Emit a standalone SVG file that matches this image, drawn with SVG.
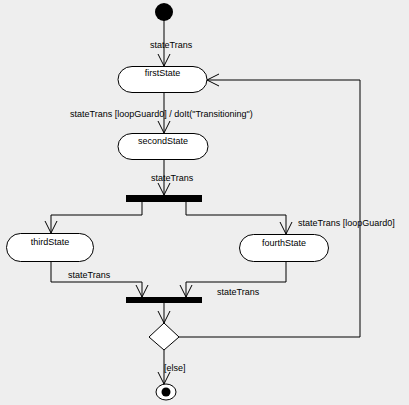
<svg xmlns="http://www.w3.org/2000/svg" width="409" height="405" viewBox="0 0 409 405">
<style>
.bg{fill:#eeeeee}
.state{fill:#ffffff;stroke:#000;stroke-width:1}
.lbl{font-family:"Liberation Sans",Arial,sans-serif;font-size:9px;fill:#000}
.conn{fill:none;stroke:#000;stroke-width:1}
.bar{fill:#000}
</style>
<defs>
<marker id="arr" markerWidth="16" markerHeight="16" refX="12" refY="6" orient="auto" markerUnits="userSpaceOnUse" viewBox="0 0 16 12">
<path d="M0,0 L12,6 L0,12" fill="none" stroke="#000" stroke-width="1"/>
</marker>
</defs>
<rect class="bg" x="0" y="0" width="409" height="405"/>
<g id="connectors">
<path class="conn" d="M164,20 L164,66" marker-end="url(#arr)"/>
<path class="conn" d="M164,93 L164,133" marker-end="url(#arr)"/>
<path class="conn" d="M164,159 L164,195" marker-end="url(#arr)"/>
<path class="conn" d="M142,202 L142,215 L51,215 L51,233" marker-end="url(#arr)"/>
<path class="conn" d="M186,202 L186,215 L286,215 L286,234" marker-end="url(#arr)"/>
<path class="conn" d="M51,262 L51,282 L142,282 L142,297" marker-end="url(#arr)"/>
<path class="conn" d="M286,262 L286,282 L186,282 L186,297" marker-end="url(#arr)"/>
<path class="conn" d="M164,303 L164,323" marker-end="url(#arr)"/>
<path class="conn" d="M179,337 L360,337 L360,80 L207,80" marker-end="url(#arr)"/>
<path class="conn" d="M164,350 L164,384" marker-end="url(#arr)"/>
<text class="lbl" x="150" y="48">stateTrans</text>
<text class="lbl" x="70" y="117">stateTrans [loopGuard0] / doIt("Transitioning")</text>
<text class="lbl" x="151" y="181">stateTrans</text>
<text class="lbl" x="298" y="226">stateTrans [loopGuard0]</text>
<text class="lbl" x="68" y="278">stateTrans</text>
<text class="lbl" x="217" y="295">stateTrans</text>
<text class="lbl" x="164" y="371">[else]</text>
</g>
<g id="start">
<circle cx="164" cy="12" r="9" fill="#000"/>
</g>
<g id="firstState">
<rect class="state" x="118" y="66.5" width="89" height="26" rx="14" ry="13"/>
<text class="lbl" x="162.5" y="76" text-anchor="middle">firstState</text>
</g>
<g id="secondState">
<rect class="state" x="118" y="133.5" width="90" height="26" rx="14" ry="13"/>
<text class="lbl" x="163" y="144" text-anchor="middle">secondState</text>
</g>
<g id="fork">
<rect class="bar" x="126" y="195" width="76" height="7"/>
</g>
<g id="thirdState">
<rect class="state" x="6.5" y="233.5" width="87" height="28" rx="14" ry="14"/>
<text class="lbl" x="50" y="245" text-anchor="middle">thirdState</text>
</g>
<g id="fourthState">
<rect class="state" x="239.5" y="234.5" width="89" height="27" rx="14" ry="13.5"/>
<text class="lbl" x="284" y="246" text-anchor="middle">fourthState</text>
</g>
<g id="join">
<rect class="bar" x="126" y="297" width="76" height="6"/>
</g>
<g id="decision">
<polygon class="state" points="164,323 179,337 164,350 149,337"/>
</g>
<g id="final">
<ellipse class="state" cx="166" cy="392" rx="10" ry="8"/>
<circle cx="166" cy="392" r="4.5" fill="#000"/>
</g>
</svg>
